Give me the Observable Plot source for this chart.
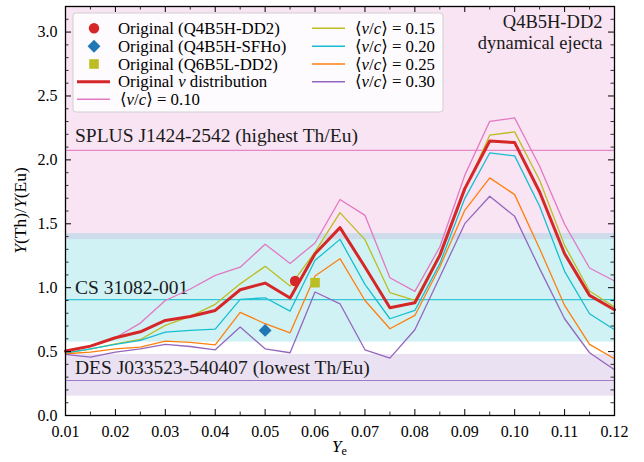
<!DOCTYPE html>
<html>
<head>
<meta charset="utf-8">
<script src="https://cdn.jsdelivr.net/npm/d3@7"></script>
<script src="https://cdn.jsdelivr.net/npm/@observablehq/plot@0.6"></script>
<style>
  html, body { margin: 0; padding: 0; background: #fff; }
  #chart svg { display: block; }
</style>
</head>
<body>
<div id="chart"></div>
<script>
// ---------------- data ----------------
const Ye = [0.010, 0.015, 0.020, 0.025, 0.030, 0.035, 0.040, 0.045, 0.050, 0.055, 0.060, 0.065,
            0.070, 0.075, 0.080, 0.085, 0.090, 0.095, 0.100, 0.105, 0.110, 0.115, 0.120];

const origDist = [0.504, 0.543, 0.608, 0.655, 0.744, 0.775, 0.822, 0.984, 1.036, 0.919, 1.266, 1.470,
                  1.162, 0.843, 0.882, 1.253, 1.775, 2.148, 2.135, 1.749, 1.266, 0.940, 0.827];
const v010 = [0.504, 0.540, 0.608, 0.723, 0.900, 0.990, 1.096, 1.160, 1.340, 1.190, 1.350, 1.690,
              1.566, 1.078, 0.971, 1.318, 1.879, 2.302, 2.328, 1.950, 1.496, 1.154, 1.052];
const v015 = [0.490, 0.520, 0.560, 0.595, 0.705, 0.775, 0.870, 1.030, 1.167, 1.013, 1.280, 1.587,
              1.376, 0.961, 0.900, 1.266, 1.762, 2.193, 2.219, 1.840, 1.331, 0.974, 0.848];
const v020 = [0.488, 0.522, 0.556, 0.587, 0.653, 0.666, 0.676, 0.908, 0.921, 0.817, 1.214, 1.378,
              1.026, 0.757, 0.822, 1.188, 1.697, 2.054, 2.031, 1.637, 1.128, 0.796, 0.671];
const v025 = [0.483, 0.496, 0.522, 0.535, 0.582, 0.572, 0.553, 0.807, 0.718, 0.647, 1.091, 1.227,
              0.900, 0.679, 0.783, 1.162, 1.605, 1.859, 1.728, 1.305, 0.861, 0.556, 0.444];
const v030 = [0.478, 0.457, 0.496, 0.522, 0.556, 0.540, 0.514, 0.692, 0.522, 0.491, 0.966, 0.874,
              0.514, 0.449, 0.671, 1.083, 1.501, 1.715, 1.558, 1.149, 0.757, 0.491, 0.358];

const velLabels = ["0.10", "0.15", "0.20", "0.25", "0.30"];
const velSeries = [v010, v015, v020, v025, v030];
const velColors = ["#e377c2", "#bcbd22", "#17becf", "#ff7f0e", "#9467bd"];

const obsNames = ["SPLUS J1424-2542 (highest Th/Eu)", "CS 31082-001", "DES J033523-540407 (lowest Th/Eu)"];
const obsValue = [2.075, 0.906, 0.274];
const obsLow = [1.376, 0.574, 0.151];
const obsHigh = [3.2, 1.423, 0.478];
const obsColors = ["#e377c2", "#17becf", "#9467bd"];
const obsLabelY = [2.19, 1.0, 0.373];

const pointNames = ["Original (Q4B5H-DD2)", "Original (Q4B5H-SFHo)", "Original (Q6B5L-DD2)"];
const pointYe = [0.056, 0.050, 0.060];
const pointRatio = [1.052, 0.666, 1.039];
const pointColors = ["#d62728", "#1f77b4", "#bcbd22"];
const pointSymbols = ["circle", "diamond2", "square"];
const pointR = [5.2, 5.8, 5.4];

const xMajor = [0.01, 0.02, 0.03, 0.04, 0.05, 0.06, 0.07, 0.08, 0.09, 0.10, 0.11, 0.12];
const xMinor = [0.015, 0.025, 0.035, 0.045, 0.055, 0.065, 0.075, 0.085, 0.095, 0.105, 0.115];
const yMajor = [0.0, 0.5, 1.0, 1.5, 2.0, 2.5, 3.0];
const yMinor = [0.1, 0.2, 0.3, 0.4, 0.6, 0.7, 0.8, 0.9, 1.1, 1.2, 1.3, 1.4, 1.6, 1.7, 1.8, 1.9,
                2.1, 2.2, 2.3, 2.4, 2.6, 2.7, 2.8, 2.9, 3.1];

// ---------------- tables built from the arrays ----------------
const obs = obsNames.map((name, i) => ({
  name, value: obsValue[i], low: obsLow[i], high: obsHigh[i], color: obsColors[i], labelY: obsLabelY[i]
}));
const velRows = velSeries.flatMap((vals, s) =>
  Ye.map((x, i) => ({Ye: x, ratio: vals[i], series: velLabels[s], color: velColors[s]})));
const origRows = Ye.map((x, i) => ({Ye: x, ratio: origDist[i]}));
const points = pointNames.map((name, i) => ({
  name, Ye: pointYe[i], ratio: pointRatio[i], color: pointColors[i], symbol: pointSymbols[i], r: pointR[i]
}));

// ---------------- layout ----------------
const W = 644, H = 462;
const mL = 65, mR = 30, mT = 6, mB = 47;
const innerW = W - mL - mR, innerH = H - mT - mB;
const majorLen = 6, minorLen = 3.5;
const FONT = "'Liberation Serif', 'DejaVu Serif', serif";

const plot = Plot.plot({
  width: W, height: H,
  marginLeft: mL, marginRight: mR, marginTop: mT, marginBottom: mB,
  x: {domain: [0.01, 0.12]},
  y: {domain: [0, 3.2]},
  color: {type: "identity"},
  style: {fontFamily: FONT, fontSize: "16px", color: "#000", background: "#fff", overflow: "visible"},
  marks: [
    // observational bands
    Plot.rect(obs, {x1: 0.01, x2: 0.12, y1: "low", y2: "high", fill: "color", fillOpacity: 0.2}),
    Plot.ruleY(obs, {y: "value", stroke: "color", strokeWidth: 1.2, strokeOpacity: 0.85}),
    Plot.text(obs, {x: 0.0119, y: "labelY", text: "name", textAnchor: "start", fontSize: 19.5, fontFamily: FONT, fill: "#1a1a1a"}),
    // velocity series
    Plot.line(velRows, {x: "Ye", y: "ratio", z: "series", stroke: "color", strokeWidth: 1.3}),
    // original distribution
    Plot.line(origRows, {x: "Ye", y: "ratio", stroke: "#d62728", strokeWidth: 3}),
    // original model points
    ...points.map(p => Plot.dot([p], {x: "Ye", y: "ratio", fill: "color", symbol: p.symbol, r: p.r, stroke: null})),
    // annotation (top right)
    Plot.text(["Q4B5H-DD2"], {frameAnchor: "top-right", text: d => d, dx: -12, dy: 8, lineAnchor: "top", fontSize: 18.5, fontFamily: FONT, fill: "#1a1a1a"}),
    Plot.text(["dynamical ejecta"], {frameAnchor: "top-right", text: d => d, dx: -12, dy: 29, lineAnchor: "top", fontSize: 18.5, fontFamily: FONT, fill: "#1a1a1a"}),
    // inward ticks on all four sides
    Plot.tickX(xMajor, {x: d => d, insetTop: innerH - majorLen, stroke: "#000", strokeWidth: 1}),
    Plot.tickX(xMajor, {x: d => d, insetBottom: innerH - majorLen, stroke: "#000", strokeWidth: 1}),
    Plot.tickX(xMinor, {x: d => d, insetTop: innerH - minorLen, stroke: "#000", strokeWidth: 0.8}),
    Plot.tickX(xMinor, {x: d => d, insetBottom: innerH - minorLen, stroke: "#000", strokeWidth: 0.8}),
    Plot.tickY(yMajor, {y: d => d, insetRight: innerW - majorLen, stroke: "#000", strokeWidth: 1}),
    Plot.tickY(yMajor, {y: d => d, insetLeft: innerW - majorLen, stroke: "#000", strokeWidth: 1}),
    Plot.tickY(yMinor, {y: d => d, insetRight: innerW - minorLen, stroke: "#000", strokeWidth: 0.8}),
    Plot.tickY(yMinor, {y: d => d, insetLeft: innerW - minorLen, stroke: "#000", strokeWidth: 0.8}),
    Plot.frame({stroke: "#000", strokeWidth: 1.3}),
    // tick labels
    Plot.axisX(xMajor, {tickSize: 0, tickPadding: 10, tickFormat: d => d.toFixed(2), label: null, fontSize: 16, fontFamily: FONT}),
    Plot.axisY(yMajor, {tickSize: 0, tickPadding: 8, tickFormat: d => d.toFixed(1), label: null, fontSize: 16, fontFamily: FONT})
  ]
});

document.getElementById("chart").appendChild(plot);

// ---------------- axis titles & legend (rich text) ----------------
const svg = d3.select(plot);

// y label
const yl = svg.append("text")
  .attr("transform", `translate(26,${mT + innerH / 2}) rotate(-90)`)
  .attr("text-anchor", "middle")
  .attr("font-family", FONT).attr("font-size", 17.5).attr("fill", "#000");
yl.append("tspan").attr("font-style", "italic").text("Y");
yl.append("tspan").text("(Th)/");
yl.append("tspan").attr("font-style", "italic").text("Y");
yl.append("tspan").text("(Eu)");

// x label
const xl = svg.append("text")
  .attr("x", mL + innerW / 2).attr("y", 452)
  .attr("text-anchor", "middle")
  .attr("font-family", FONT).attr("font-size", 17).attr("fill", "#000");
xl.append("tspan").attr("font-style", "italic").text("Y");
xl.append("tspan").attr("font-size", 12).attr("dy", 3).text("e");

// legend
const lg = svg.append("g").attr("font-family", FONT).attr("font-size", 16.8).attr("fill", "#000")
  .attr("text-anchor", "start");
lg.append("rect").attr("x", 73).attr("y", 13).attr("width", 370).attr("height", 99).attr("rx", 3)
  .attr("fill", "#fff").attr("fill-opacity", 0.85).attr("stroke", "#d0d0d0").attr("stroke-width", 1);

const rowY = [28.3, 46.2, 64.0, 81.7, 99.3];
const sym = {circle: d3.symbolCircle, diamond2: d3.symbolDiamond2, square: d3.symbolSquare};
points.forEach((p, i) => {
  lg.append("path")
    .attr("d", d3.symbol(sym[p.symbol], p.r * p.r * Math.PI)())
    .attr("transform", `translate(94,${rowY[i]})`)
    .attr("fill", p.color);
  lg.append("text").attr("x", 118).attr("y", rowY[i] + 5.5).attr("text-anchor", "start").text(p.name);
});
// original v distribution
lg.append("line").attr("x1", 77).attr("x2", 110).attr("y1", rowY[3]).attr("y2", rowY[3])
  .attr("stroke", "#d62728").attr("stroke-width", 3);
const ot = lg.append("text").attr("x", 118).attr("y", rowY[3] + 5.5).attr("text-anchor", "start");
ot.append("tspan").text("Original ");
ot.append("tspan").attr("font-style", "italic").text("v");
ot.append("tspan").text(" distribution");

function velEntry(x0, y, label, color) {
  lg.append("line").attr("x1", x0).attr("x2", x0 + 33).attr("y1", y).attr("y2", y)
    .attr("stroke", color).attr("stroke-width", 1.5);
  const t = lg.append("text").attr("x", x0 + 43).attr("y", y + 5.5).attr("text-anchor", "start");
  t.append("tspan").text("⟨");
  t.append("tspan").attr("font-style", "italic").text("v");
  t.append("tspan").text("/");
  t.append("tspan").attr("font-style", "italic").text("c");
  t.append("tspan").text("⟩ = " + label);
}
velEntry(77, rowY[4], velLabels[0], velColors[0]);
for (let s = 1; s < 5; s++) velEntry(312, rowY[s - 1], velLabels[s], velColors[s]);
</script>
</body>
</html>
